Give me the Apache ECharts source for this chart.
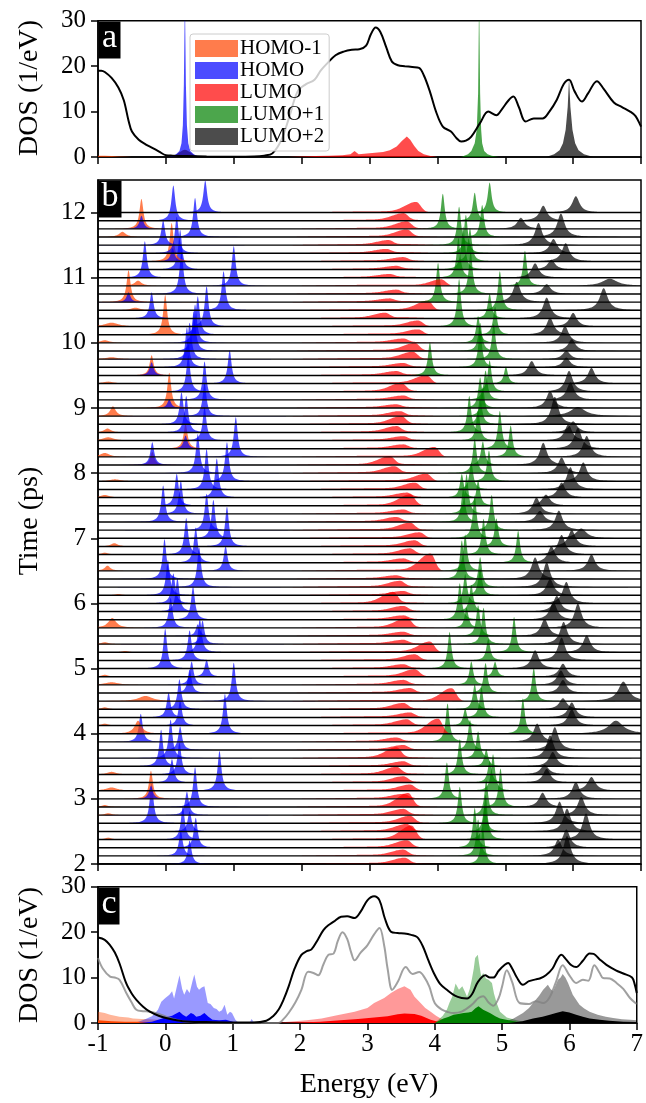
<!DOCTYPE html>
<html><head><meta charset="utf-8">
<script src="https://cdn.jsdelivr.net/npm/echarts@6/dist/echarts.min.js"></script>
<style>html,body{margin:0;padding:0;background:#fff}#c{width:646px;height:1103px}</style>
</head><body><div id="c"></div>
<script>
// ---------------- tick labels ----------------
const energyTicks = [-1, 0, 1, 2, 3, 4, 5, 6, 7];
const dosTicks = [0, 10, 20, 30];
const timeTicks = [2, 3, 4, 5, 6, 7, 8, 9, 10, 11, 12];
const stateNames = ['HOMO-1', 'HOMO', 'LUMO', 'LUMO+1', 'LUMO+2'];

// ---------------- panel a (t = 0) ----------------
const aTotalE = [-1,-0.95,-0.9,-0.8,-0.7,-0.62,-0.55,-0.5,-0.4,-0.3,-0.2,-0.1,0,0.1,0.3,0.6,1.0,1.3,1.45,1.57,1.7,1.82,1.94,2.06,2.19,2.28,2.37,2.5,2.62,2.74,2.85,2.95,3.02,3.09,3.16,3.25,3.33,3.42,3.52,3.63,3.73,3.8,3.89,3.98,4.08,4.2,4.28,4.35,4.42,4.5,4.63,4.75,4.87,4.95,5.05,5.12,5.2,5.3,5.42,5.55,5.65,5.76,5.86,5.94,6.02,6.13,6.22,6.35,6.45,6.6,6.72,6.84,6.92,7.0];
const aTotalV = [19,19,18.7,17.4,15.3,12.5,8,5.6,3.8,2.8,2.0,1.2,0.4,0.3,0.2,0.1,0.05,0.1,0.3,0.8,3.7,8.9,14.4,16,17,19,20.5,22.4,23.2,23.6,23.7,24.5,27,28.5,27.5,24,21,20.2,20,19.8,19.6,18,14.4,10,6.7,5.6,4.2,3.4,3.6,4.5,7.5,10,9.2,10.5,12.5,13.3,11,7.8,8.5,8.5,10,12.6,16,17,14.5,12.2,14,16.7,15,12,11,10,9,6.7];
const aHomo1E = [-1,-0.9,-0.8,-0.7,-0.6,-0.5];
const aHomo1V = [0.3,0.25,0.2,0.12,0.05,0];
const aHomoE = [0.05,0.15,0.2,0.23,0.25,0.265,0.28,0.295,0.31,0.33,0.36,0.41,0.5];
const aHomoV = [0,0.6,1.3,3,7,16,36,16,7,3,1.3,0.6,0];
const aHomoCoreE = [0.08,0.16,0.22,0.28,0.34,0.4,0.48];
const aHomoCoreV = [0,0.6,1.2,1.6,1.2,0.6,0];
const aLumoE = [1.8,2.0,2.2,2.4,2.6,2.72,2.78,2.84,3.0,3.2,3.3,3.4,3.48,3.55,3.6,3.66,3.72,3.8,3.9,4.0];
const aLumoV = [0,0.1,0.2,0.3,0.4,0.6,1.3,0.6,0.8,1.1,1.5,2.3,3.6,4.5,3.8,2.4,1.3,0.6,0.2,0];
const aLumo1E = [4.35,4.45,4.5,4.55,4.58,4.6,4.615,4.63,4.645,4.66,4.69,4.74,4.8,4.9];
const aLumo1V = [0,0.6,1.3,3,6,14,36,14,6,3,1.3,0.6,0.3,0];
const aLumo2E = [5.6,5.72,5.8,5.85,5.89,5.92,5.94,5.96,5.99,6.03,6.08,6.16,6.3];
const aLumo2V = [0,0.6,1.5,3,6,11,17.4,11,6,3,1.5,0.6,0];

// ---------------- panel b (rows from t = 12 ps at top down to t = 2 ps) ----------------
const rowTimes = Array.from({length: 81}, (_, k) => 12 - 0.125 * k);
// peak centre (eV), peak height (ps offset), half width (eV)
const homo1E = [-1.2,-1.2,-0.36,-0.64,-1.2,-1.2,0.085,-1.2,-1.2,-0.41,
  -1.2,-0.55,-0.45,-1.2,-0.8,-0.01,-0.9,-1.2,-0.8,-1.2,
  -0.21,-0.85,-1.2,-1.2,0.05,-0.78,-1.2,-0.86,-0.85,0.29,
  -0.9,-0.20,-1.2,-0.75,-1.2,-0.9,-1.2,-1.2,-1.2,-1.2,
  -1.2,-0.76,-0.9,-1.2,-0.86,-1.2,-1.2,-0.7,-1.2,-1.2,
  -1.2,-0.79,-1.2,-0.9,-0.6,-1.2,-1.2,-0.9,-0.8,-1.2,
  -0.3,-0.9,-1.2,-0.9,-0.41,-1.2,-1.2,-1.2,-1.2,-0.8,
  -1.2,-0.8,-0.22,-0.9,-0.85,-1.2,-1.2,-0.85,-1.2,-1.2,-1.2];
const homo1H = [0,0,0.46,0.08,0,0,0.59,0,0,0.08,
  0,0.49,0.04,0,0.06,0.61,0.04,0,0.03,0,
  0.31,0.03,0,0,0.54,0.15,0,0.06,0.05,0.38,
  0.06,0.20,0,0.03,0,0.04,0,0,0,0,
  0,0.05,0.03,0,0.08,0,0,0.02,0,0,
  0,0.15,0,0.03,0.02,0,0,0.03,0.04,0,
  0.08,0.03,0,0.03,0.20,0,0,0,0,0.04,
  0,0.05,0.43,0.03,0.03,0,0,0.03,0,0,0];
const homo1W = [.05,.05,.035,.06,.05,.05,.035,.05,.05,.06,
  .05,.035,.08,.05,.12,.035,.08,.05,.10,.05,
  .035,.10,.05,.05,.035,.05,.05,.06,.10,.035,
  .08,.035,.05,.10,.05,.08,.05,.05,.05,.05,
  .05,.06,.06,.05,.05,.05,.05,.06,.05,.05,
  .05,.07,.05,.06,.06,.05,.05,.06,.12,.05,
  .12,.06,.05,.06,.06,.05,.05,.05,.05,.08,
  .05,.10,.035,.06,.06,.05,.05,.06,.05,.05,.05];
const homoE = [0.58,0.11,-0.36,0.43,-0.04,0.16,0.10,0.21,-0.31,1.00,
  0.23,-0.55,0.85,-0.21,0.60,0.47,0.43,0.41,0.35,0.31,
  -0.21,0.94,0.33,0.57,0.05,0.57,0.23,0.30,0.57,0.29,
  1.03,-0.20,0.47,0.90,0.60,0.75,0.16,0.22,-0.04,0.60,
  0.70,0.90,0.30,0.44,0.88,-0.02,0.49,0.03,0.11,0.17,
  0.40,0.07,0.47,0.54,0.50,0.35,-0.01,0.60,0.38,0.35,
  1.00,0.20,0.04,0.21,0.87,-0.37,0.21,0.07,-0.07,0.20,
  0.09,0.79,-0.22,0.43,0.31,-0.21,0.35,0.25,0.44,0.22,0.35];
const homoH = [0.49,0.54,0.20,0.60,0.38,0.56,0.20,0.61,0.56,0.61,
  0.66,0.15,0.60,0.40,0.62,0.59,0.59,0.61,0.56,0.61,
  0.20,0.51,0.56,0.59,0.13,0.51,0.49,0.56,0.51,0.20,
  0.61,0.35,0.60,0.60,0.62,0.60,0.49,0.51,0.56,0.56,
  0.59,0.61,0.56,0.54,0.38,0.61,0.61,0.54,0.46,0.51,
  0.51,0.46,0.18,0.36,0.51,0.46,0.61,0.26,0.36,0.36,
  0.59,0.46,0.38,0.38,0.61,0.43,0.36,0.59,0.56,0.49,
  0.36,0.61,0.20,0.61,0.36,0.61,0.31,0.51,0.46,0.38,0.36];
const lumoE = [3.69,3.50,3.55,3.55,3.28,3.25,3.50,3.40,3.30,4.06,
  3.40,3.30,3.86,3.23,3.72,3.72,3.50,3.67,3.64,3.50,
  3.40,3.84,3.47,3.50,3.40,3.45,3.47,3.40,3.50,3.50,
  3.96,3.30,3.37,3.84,3.67,3.55,3.60,3.50,3.40,3.60,
  3.74,3.67,3.60,3.50,3.90,3.40,3.45,3.50,3.35,3.50,
  3.50,3.55,3.50,3.50,3.89,3.67,3.50,3.67,3.50,3.60,
  4.21,3.50,3.60,3.55,4.01,3.40,3.50,3.40,3.50,3.40,
  3.50,3.60,3.50,3.57,3.50,3.60,3.55,3.62,3.55,3.50,3.52];
const lumoH = [0.15,0.10,0.10,0.10,0.06,0.05,0.05,0.04,0.04,0.10,
  0.05,0.04,0.14,0.07,0.08,0.07,0.05,0.11,0.10,0.05,
  0.05,0.12,0.12,0.05,0.04,0.06,0.11,0.08,0.05,0.05,
  0.15,0.12,0.09,0.11,0.09,0.06,0.16,0.05,0.06,0.10,
  0.08,0.08,0.08,0.05,0.26,0.04,0.08,0.05,0.16,0.07,
  0.05,0.14,0.05,0.05,0.16,0.08,0.05,0.10,0.06,0.06,
  0.20,0.08,0.06,0.08,0.23,0.05,0.06,0.15,0.06,0.10,
  0.08,0.08,0.06,0.20,0.08,0.10,0.10,0.20,0.10,0.08,0.08];
// common low LUMO background in each row (eV, ps offset)
const lumoBackE = [1.85,2.1,2.4,2.7,3.0,3.3,3.6,3.85,4.05];
const lumoBackV = [0,0.006,0.010,0.014,0.017,0.018,0.016,0.007,0];
const lumo1E = [4.77,4.55,4.08,4.66,4.32,4.42,4.48,4.38,4.31,5.29,
  4.49,4.01,4.92,4.77,4.32,4.85,4.60,4.63,4.83,4.63,
  3.89,5.01,4.77,4.71,4.63,4.67,4.63,4.47,4.60,4.92,
  5.08,4.67,4.55,4.76,4.50,4.36,4.60,4.43,4.38,4.80,
  4.55,4.87,4.68,5.19,4.41,4.36,4.63,4.63,4.41,4.50,
  4.33,4.43,4.60,4.68,5.13,4.75,4.18,4.85,4.50,4.71,
  5.42,4.55,4.65,4.41,5.26,4.15,4.48,4.60,4.72,4.33,
  4.77,4.82,4.14,4.93,4.72,4.33,4.70,4.71,4.55,4.60,4.67];
const lumo1H = [0.46,0.43,0.54,0.49,0.59,0.59,0.51,0.66,0.61,0.54,
  0.66,0.60,0.60,0.38,0.73,0.43,0.41,0.43,0.54,0.56,
  0.51,0.26,0.48,0.45,0.47,0.44,0.41,0.56,0.46,0.58,
  0.48,0.36,0.53,0.47,0.41,0.36,0.39,0.61,0.51,0.54,
  0.66,0.43,0.55,0.49,0.56,0.59,0.46,0.41,0.45,0.41,
  0.56,0.31,0.47,0.56,0.54,0.33,0.56,0.23,0.36,0.46,
  0.51,0.38,0.46,0.26,0.54,0.59,0.46,0.41,0.26,0.54,
  0.33,0.56,0.56,0.59,0.54,0.56,0.41,0.69,0.61,0.56,0.56];
const lumo2E = [6.04,5.56,5.23,5.82,5.49,5.71,5.89,5.68,5.44,6.54,
  5.61,5.17,6.45,5.61,6.00,5.66,5.88,5.98,5.90,5.90,
  5.39,6.27,5.94,5.96,5.66,6.07,5.73,6.00,5.93,6.07,
  6.20,5.56,5.83,6.15,5.96,5.83,5.60,5.46,5.51,5.79,
  6.12,5.98,5.83,5.68,6.27,5.44,5.61,5.66,5.90,5.76,
  5.71,6.07,5.58,5.86,6.20,5.83,5.44,5.85,5.82,5.85,
  6.74,5.85,5.98,5.98,6.63,5.47,5.73,5.66,5.70,5.58,
  5.61,6.27,6.04,5.55,6.12,5.80,5.91,6.19,5.90,5.78,5.91];
const lumo2H = [0.25,0.23,0.17,0.36,0.34,0.22,0.28,0.15,0.22,0.11,
  0.15,0.31,0.34,0.32,0.21,0.26,0.26,0.18,0.13,0.15,
  0.22,0.24,0.32,0.27,0.26,0.14,0.42,0.17,0.25,0.32,
  0.32,0.34,0.24,0.29,0.34,0.23,0.17,0.25,0.17,0.30,
  0.15,0.25,0.30,0.25,0.25,0.33,0.38,0.25,0.33,0.24,
  0.27,0.37,0.26,0.34,0.26,0.35,0.28,0.20,0.22,0.20,
  0.30,0.17,0.23,0.25,0.20,0.28,0.35,0.35,0.22,0.15,
  0.21,0.21,0.26,0.22,0.28,0.33,0.35,0.40,0.28,0.25,0.43];
const lumo2W = [.065,.065,.065,.065,.065,.065,.065,.065,.065,.13,
  .07,.065,.07,.065,.065,.065,.065,.065,.065,.065,
  .065,.065,.065,.065,.065,.13,.065,.07,.065,.065,
  .065,.065,.065,.065,.065,.065,.07,.065,.07,.065,
  .09,.065,.065,.065,.065,.065,.065,.065,.065,.065,
  .065,.065,.065,.065,.065,.065,.065,.065,.065,.065,
  .09,.065,.065,.065,.13,.065,.065,.065,.065,.07,
  .065,.07,.065,.065,.065,.065,.065,.065,.065,.065,.065];

// ---------------- panel c (time averaged) ----------------
const cTotalE = [-1,-0.9,-0.82,-0.75,-0.68,-0.58,-0.5,-0.43,-0.33,-0.23,-0.1,0.01,0.26,0.6,1.0,1.3,1.5,1.6,1.68,1.76,1.83,1.92,2.02,2.1,2.17,2.27,2.35,2.42,2.5,2.61,2.7,2.81,2.9,3.0,3.1,3.18,3.26,3.35,3.45,3.55,3.65,3.74,3.82,3.9,3.99,4.08,4.18,4.3,4.4,4.48,4.56,4.64,4.75,4.82,4.87,4.95,5.04,5.09,5.15,5.22,5.31,5.4,5.5,5.56,5.65,5.75,5.82,5.88,5.95,6.03,6.1,6.2,6.3,6.36,6.45,6.55,6.69,6.8,6.93,6.97,7.0];
const cTotalV = [18.8,18.3,17.1,15.5,13.1,8.7,6.5,5.1,3.6,2.5,1.6,1.1,0.4,0.2,0.1,0.1,0.5,1.5,2.9,5.3,8,12,15,15.8,16.2,18.5,20.5,21.5,22.3,23.4,23.5,23.1,24.5,27,27.9,27,23,20.1,19.8,19.7,19.4,18.9,17,14,10.9,8.6,7.3,6,5.5,5.4,6.5,9,10.5,10,10,11.5,12.8,13.2,12,10,8.4,9.2,9.6,9.8,10.5,12,14,15,14,12.7,12.3,13.7,15.3,15.2,14,12.8,11.6,10.9,10,8.5,6.6];
const cGrayE = [-1,-0.93,-0.82,-0.75,-0.68,-0.58,-0.5,-0.43,-0.33,-0.23,-0.1,0.01,0.26,0.6,1.0,1.68,1.75,1.83,1.93,2.02,2.12,2.2,2.27,2.35,2.42,2.5,2.56,2.63,2.7,2.76,2.81,2.9,3.0,3.1,3.18,3.25,3.3,3.37,3.45,3.57,3.67,3.77,3.85,3.92,4.0,4.1,4.2,4.28,4.4,4.55,4.65,4.72,4.8,4.87,4.95,5.0,5.07,5.15,5.26,5.4,5.5,5.61,5.7,5.8,5.9,6.0,6.1,6.2,6.28,6.37,6.45,6.5,6.6,6.7,6.8,6.9,6.98,7.0];
const cGrayV = [14.3,12,10.2,10,9.5,6.6,4.5,2.9,2.6,2.5,2,1.4,0.4,0.1,0,0,0.8,2.2,4.5,7.3,11.3,11,10.5,13,15,15.3,18,20,18.5,15.5,13.8,15.5,17.1,19.5,20.9,17,12,7.3,9,12.3,10.8,11.2,10,8,4.4,3,2.4,2.2,2.5,4,5.5,5.9,4.5,3.8,5.5,8,11.6,9,4.4,4.2,4.8,4.4,5.5,9,12.7,10.5,8.8,9.5,9.3,12.7,11,9.9,9.8,8.8,7.5,5.5,4.4,4.3];
const cHomo1LightE = [-1,-0.9,-0.82,-0.68,-0.55,-0.48,-0.35,-0.23,-0.1,0.01,0.15,0.26,0.4];
const cHomo1LightV = [2.5,2.2,1.8,1.4,1.2,1.0,0.9,0.8,0.7,0.6,0.45,0.3,0];
const cHomo1DarkE = [-1,-0.8,-0.6,-0.4,-0.2,0,0.2,0.3];
const cHomo1DarkV = [0.6,0.4,0.3,0.25,0.2,0.15,0.05,0];
const cHomoLightE = [-0.5,-0.4,-0.3,-0.2,-0.15,-0.11,-0.06,0.0,0.06,0.1,0.13,0.17,0.21,0.25,0.28,0.32,0.36,0.4,0.43,0.47,0.5,0.54,0.58,0.63,0.67,0.72,0.76,0.8,0.84,0.88,0.92,0.96,0.99,1.04,1.09,1.2,1.26,1.28,1.31,1.35];
const cHomoLightV = [0,0.3,0.8,1.5,2.2,2.9,4.7,5.5,6.2,7,5.4,8,10.5,7.5,6.2,7.5,6.6,9,10.7,8,7.3,7.8,8.1,4.4,4.2,3.3,3.1,2.5,2.8,4.0,1.8,2.5,2.2,0.7,0,0,0.3,0.9,0.3,0];
const cHomoDarkE = [-0.4,-0.2,0,0.1,0.21,0.26,0.31,0.38,0.42,0.46,0.52,0.58,0.64,0.7,0.8,0.9,1.0,1.04,1.1];
const cHomoDarkV = [0,0.3,1.2,1.6,2.5,1.8,1.4,2.2,1.9,1.4,1.6,2.2,1.4,0.7,0.6,0.7,0.3,0.1,0];
const cLumoLightE = [1.6,1.83,2.1,2.32,2.55,2.81,3.0,3.1,3.25,3.35,3.45,3.55,3.64,3.7,3.79,3.86,3.94,4.02,4.09,4.23];
const cLumoLightV = [0,0.3,0.6,1.0,1.7,2.5,3.3,4.4,5.5,6.6,7.5,8.1,7.3,5.8,4.4,3.3,2.5,1.6,1.0,0];
const cLumoDarkE = [1.8,2.3,2.6,2.86,3.1,3.3,3.45,3.55,3.7,3.8,3.94,4.05,4.2];
const cLumoDarkV = [0,0.3,0.6,0.9,1.2,1.5,1.9,2.1,2.0,1.6,0.7,0.3,0];
const cLumo1LightE = [3.9,4.04,4.12,4.18,4.22,4.26,4.31,4.36,4.41,4.45,4.48,4.52,4.55,4.58,4.6,4.64,4.66,4.69,4.72,4.76,4.8,4.85,4.88,4.92,4.97,5.07,5.22,5.41];
const cLumo1LightV = [0,0.5,1.6,2.9,4.5,5.8,8.7,7.3,8.1,6.8,5.8,7.5,9.5,12,14.3,15,13,10.3,11,9.8,9.5,8.8,6.5,4.4,2.5,1.2,0.6,0];
const cLumo1DarkE = [4.0,4.13,4.2,4.28,4.35,4.43,4.5,4.55,4.6,4.65,4.72,4.82,4.9,4.97,5.1,5.22,5.35];
const cLumo1DarkV = [0,1.0,1.3,1.8,2.0,2.2,2.3,2.5,3.2,3.7,2.9,2.2,1.5,1.0,0.6,0.3,0];
const cLumo2LightE = [5.0,5.17,5.31,5.4,5.46,5.55,5.61,5.68,5.72,5.76,5.83,5.87,5.9,5.94,5.98,6.05,6.15,6.22,6.3,6.42,6.54,6.65,6.78,6.9,7.0];
const cLumo2LightV = [0,1,2.2,3.3,4.4,6,7.3,8.4,7.5,7,9.5,10,10.8,10,8.8,6.2,4,3.2,2.5,1.8,1.4,1.1,0.8,0.7,0.6];
const cLumo2DarkE = [5.1,5.3,5.46,5.6,5.71,5.8,5.9,6.0,6.1,6.2,6.3,6.45,6.59,6.8,7.0];
const cLumo2DarkV = [0,0.4,1.0,1.4,1.8,2.2,2.6,2.3,1.8,1.4,1.0,0.7,0.5,0.3,0.2];

// ---------------- styling ----------------
const FONT = "'Liberation Serif','DejaVu Serif',serif";
const fillA = ['rgba(255,69,0,0.7)', 'rgba(0,0,255,0.7)', 'rgba(255,0,0,0.7)', 'rgba(0,128,0,0.7)', 'rgba(0,0,0,0.7)'];
const fillLight = ['rgba(255,69,0,0.4)', 'rgba(0,0,255,0.4)', 'rgba(255,0,0,0.4)', 'rgba(0,128,0,0.4)', 'rgba(0,0,0,0.4)'];
const fillDark = ['rgb(255,69,0)', 'rgb(0,0,255)', 'rgb(255,0,0)', 'rgb(0,128,0)', 'rgb(0,0,0)'];

const zip = (E, V) => E.map((e, i) => [e, V[i]]);

// peak glyph sampling for ridge rows
const offs = (function () {
  const a = [];
  for (let d = 0; d < 0.1; d += 0.004) a.push(d);
  for (let d = 0.1; d < 0.4; d += 0.02) a.push(d);
  for (let d = 0.4; d <= 1.2; d += 0.1) a.push(d);
  const r = a.slice(1).reverse().map(x => -x);
  return r.concat(a);
})();
function interp(E, xs, ys) {
  if (E <= xs[0] || E >= xs[xs.length - 1]) return 0;
  for (let i = 1; i < xs.length; i++) if (E <= xs[i]) {
    const f = (E - xs[i - 1]) / (xs[i] - xs[i - 1]);
    return ys[i - 1] + f * (ys[i] - ys[i - 1]);
  }
  return 0;
}
function peakPoints(k, s) {
  const pts = [];
  if (s === 2) {
    const e0 = lumoE[k], h = lumoH[k];
    for (let e = 1.8; e <= 4.6; e += 0.015) {
      const d = e - e0;
      const sig = d < 0 ? 0.16 : 0.065;
      pts.push([e, interp(e, lumoBackE, lumoBackV) + h * Math.exp(-(d * d) / (2 * sig * sig))]);
    }
    return pts;
  }
  const E0 = [homo1E, homoE, null, lumo1E, lumo2E][s][k];
  const H = [homo1H, homoH, null, lumo1H, lumo2H][s][k];
  const W = s === 0 ? homo1W[k] : s === 4 ? lumo2W[k] : 0.034;
  offs.forEach(d => pts.push([E0 + d, H / (1 + (d / W) * (d / W))]));
  return pts;
}
const ridgeData = [];
for (let k = 80; k >= 0; k--) {
  const hs = [homo1H[k], homoH[k], lumoH[k], lumo1H[k], lumo2H[k]];
  const es = [homo1E[k], homoE[k], lumoE[k], lumo1E[k], lumo2E[k]];
  for (let s = 0; s < 5; s++) if (hs[s] > 0) ridgeData.push([es[s], rowTimes[k], k, s]);
}

function xAx(gi, lab) {
  return {type: 'value', gridIndex: gi, min: -1, max: 7, interval: 1,
    axisLine: {show: true, onZero: false, lineStyle: {color: '#000', width: 1.5}},
    axisTick: {show: true, length: 7, lineStyle: {color: '#000', width: 1.5}},
    axisLabel: {show: lab, color: '#000', fontFamily: FONT, fontSize: 25, margin: 9, formatter: v => String(v)},
    splitLine: {show: false}};
}
function yAx(gi, min, max, ticks) {
  return {type: 'value', gridIndex: gi, min: min, max: max, interval: gi === 1 ? 1 : 10,
    axisLine: {show: true, onZero: false, lineStyle: {color: '#000', width: 1.5}},
    axisTick: {show: true, length: 7, lineStyle: {color: '#000', width: 1.5}, customValues: ticks},
    axisLabel: {color: '#000', fontFamily: FONT, fontSize: 25, margin: 12, customValues: ticks},
    splitLine: {show: false}};
}
function area(name, E, V, color, xi, z, smooth) {
  return {name: name, type: 'line', xAxisIndex: xi, yAxisIndex: xi, data: zip(E, V), showSymbol: false,
    symbol: 'none', smooth: smooth || false, lineStyle: {width: 0, color: color}, itemStyle: {color: color},
    color: color, areaStyle: {color: color, opacity: 1}, z: z, silent: true, animation: false};
}
function curve(E, V, color, xi, z, w) {
  return {type: 'line', xAxisIndex: xi, yAxisIndex: xi, data: zip(E, V), showSymbol: false, symbol: 'none',
    smooth: 0.35, lineStyle: {width: w, color: color}, z: z, silent: true, animation: false};
}

const gridBox = {show: true, borderColor: '#000', borderWidth: 1.5, backgroundColor: 'transparent'};
const option = {
  animation: false,
  grid: [
    Object.assign({left: 98, right: 5, top: 20.7, height: 136.3}, gridBox),
    Object.assign({left: 98, right: 5, top: 180, height: 684}, gridBox),
    Object.assign({left: 98, right: 5, top: 886.7, height: 136.3}, gridBox)
  ],
  xAxis: [xAx(0, false), xAx(1, false), xAx(2, true)],
  yAxis: [yAx(0, 0, 30, dosTicks), yAx(1, 2, 12.5, timeTicks), yAx(2, 0, 30, dosTicks)],
  legend: {
    show: true, orient: 'vertical', left: 190, top: 34, icon: 'rect', itemWidth: 43, itemHeight: 17, itemGap: 1,
    padding: [4, 5, 4, 5], backgroundColor: 'rgba(255,255,255,0.8)', borderColor: '#cccccc', borderWidth: 1, borderRadius: 3,
    textStyle: {fontFamily: FONT, fontSize: 21, color: '#000', lineHeight: 17, padding: [0, 0, 0, -3]}, selectedMode: false,
    itemStyle: {borderWidth: 0},
    data: stateNames.map((n, i) => ({name: n, itemStyle: {color: fillA[i], borderWidth: 0}}))
  },
  series: [
    // panel a
    area('HOMO-1', aHomo1E, aHomo1V, fillA[0], 0, 2),
    area('HOMO', aHomoE, aHomoV, fillA[1], 0, 2),
    area('HOMOcore', aHomoCoreE, aHomoCoreV, 'rgba(40,20,150,0.85)', 0, 2, 0.4),
    area('LUMO', aLumoE, aLumoV, fillA[2], 0, 2),
    area('LUMO+1', aLumo1E, aLumo1V, fillA[3], 0, 2),
    area('LUMO+2', aLumo2E, aLumo2V, fillA[4], 0, 2),
    curve(aTotalE, aTotalV, '#000', 0, 3, 2),
    // panel b ridge peaks
    {type: 'custom', xAxisIndex: 1, yAxisIndex: 1, data: ridgeData, clip: true, silent: true, z: 2,
      renderItem: function (params, api) {
        const k = api.value(2), s = api.value(3), t = rowTimes[k];
        const pts = peakPoints(k, s);
        const points = [api.coord([pts[0][0], t])];
        pts.forEach(p => points.push(api.coord([p[0], t + p[1]])));
        points.push(api.coord([pts[pts.length - 1][0], t]));
        return {type: 'polygon', shape: {points: points}, style: {fill: fillA[s]}};
      }},
    // panel b baselines
    {type: 'custom', xAxisIndex: 1, yAxisIndex: 1, data: rowTimes.map((t, k) => [-1, t, k]), clip: true, silent: true, z: 3,
      renderItem: function (params, api) {
        const t = api.value(1);
        const p1 = api.coord([-1, t]), p2 = api.coord([7, t]);
        return {type: 'line', shape: {x1: p1[0], y1: p1[1], x2: p2[0], y2: p2[1]}, style: {stroke: '#000', lineWidth: 1.4}};
      }},
    // panel c
    area('c0l', cHomo1LightE, cHomo1LightV, fillLight[0], 2, 2),
    area('c1l', cHomoLightE, cHomoLightV, fillLight[1], 2, 2),
    area('c2l', cLumoLightE, cLumoLightV, fillLight[2], 2, 2),
    area('c3l', cLumo1LightE, cLumo1LightV, fillLight[3], 2, 2),
    area('c4l', cLumo2LightE, cLumo2LightV, fillLight[4], 2, 2),
    area('c0d', cHomo1DarkE, cHomo1DarkV, fillDark[0], 2, 2),
    area('c1d', cHomoDarkE, cHomoDarkV, fillDark[1], 2, 2),
    area('c2d', cLumoDarkE, cLumoDarkV, fillDark[2], 2, 2),
    area('c3d', cLumo1DarkE, cLumo1DarkV, fillDark[3], 2, 2),
    area('c4d', cLumo2DarkE, cLumo2DarkV, fillDark[4], 2, 2),
    curve(cGrayE, cGrayV, 'rgba(128,128,128,0.75)', 2, 3, 2),
    curve(cTotalE, cTotalV, '#000', 2, 4, 2)
  ],
  graphic: [
    {type: 'rect', shape: {x: 98.5, y: 21.5, width: 22, height: 37}, style: {fill: '#000'}, z: 100},
    {type: 'text', x: 109.5, y: 38, style: {text: 'a', fill: '#fff', font: "34px " + FONT, textAlign: 'center', textVerticalAlign: 'middle'}, z: 101},
    {type: 'rect', shape: {x: 98.5, y: 180.5, width: 23, height: 37}, style: {fill: '#000'}, z: 100},
    {type: 'text', x: 110, y: 197, style: {text: 'b', fill: '#fff', font: "34px " + FONT, textAlign: 'center', textVerticalAlign: 'middle'}, z: 101},
    {type: 'rect', shape: {x: 98.5, y: 887.5, width: 21, height: 37}, style: {fill: '#000'}, z: 100},
    {type: 'text', x: 109, y: 904, style: {text: 'c', fill: '#fff', font: "34px " + FONT, textAlign: 'center', textVerticalAlign: 'middle'}, z: 101},
    {type: 'text', x: 30, y: 88, rotation: Math.PI / 2, style: {text: 'DOS (1/eV)', fill: '#000', font: "28px " + FONT, textAlign: 'center', textVerticalAlign: 'middle'}, z: 101},
    {type: 'text', x: 30, y: 521, rotation: Math.PI / 2, style: {text: 'Time (ps)', fill: '#000', font: "28px " + FONT, textAlign: 'center', textVerticalAlign: 'middle'}, z: 101},
    {type: 'text', x: 30, y: 955, rotation: Math.PI / 2, style: {text: 'DOS (1/eV)', fill: '#000', font: "28px " + FONT, textAlign: 'center', textVerticalAlign: 'middle'}, z: 101},
    {type: 'text', x: 369, y: 1085, style: {text: 'Energy (eV)', fill: '#000', font: "28px " + FONT, textAlign: 'center', textVerticalAlign: 'middle'}, z: 101}
  ]
};
const chart = echarts.init(document.getElementById('c'), null, {renderer: 'canvas'});
chart.setOption(option);
</script></body></html>
